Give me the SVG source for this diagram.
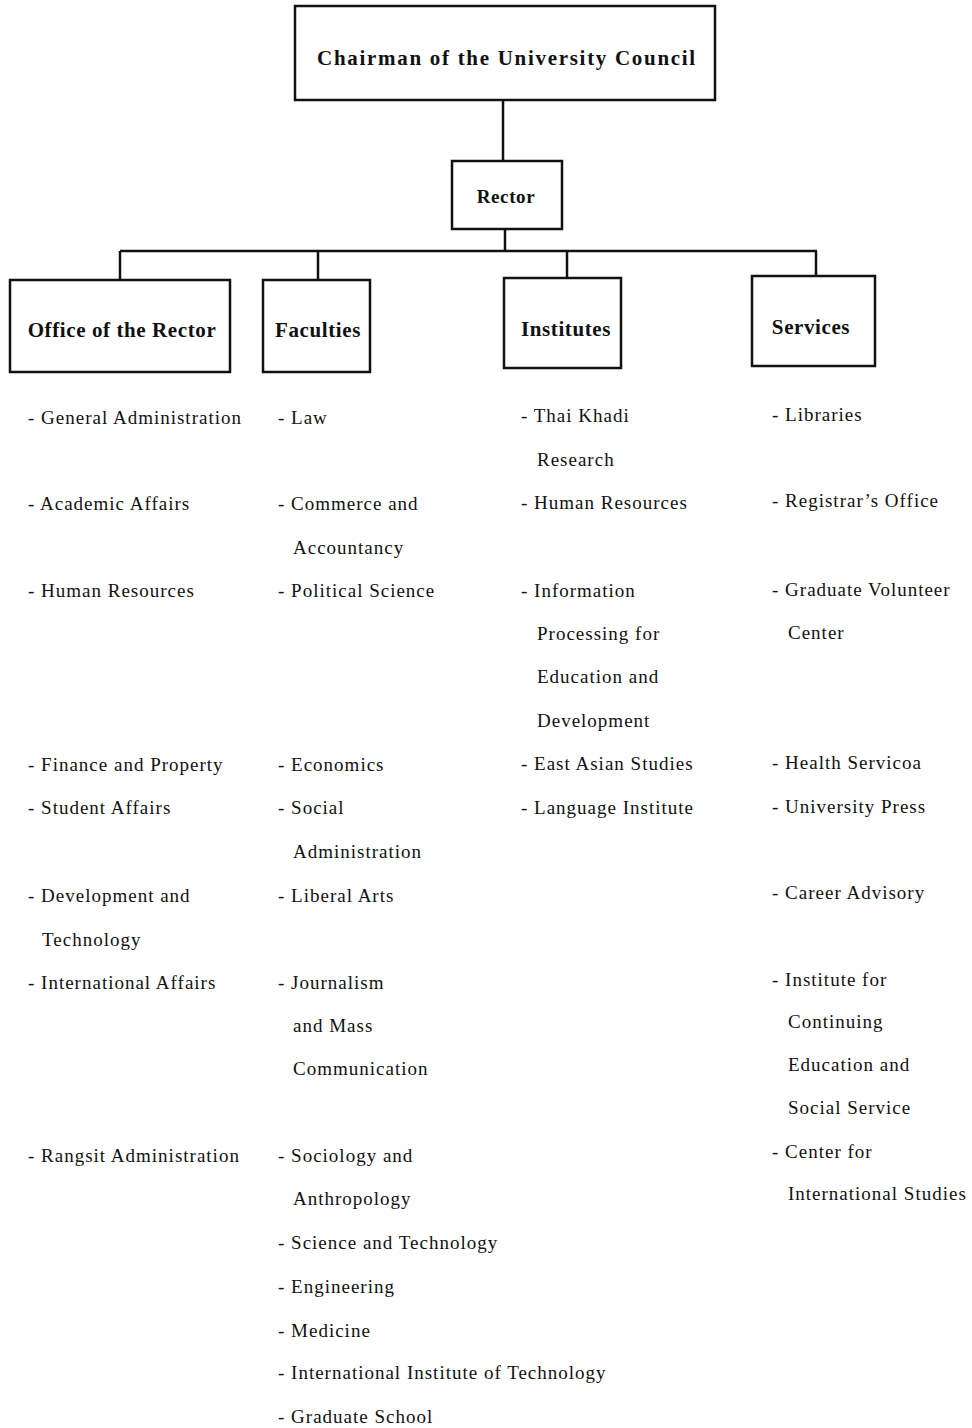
<svg xmlns="http://www.w3.org/2000/svg" width="972" height="1428" viewBox="0 0 972 1428">
<style>
.box{fill:#fff;stroke:#111;stroke-width:2.5}
.h{font-family:"Liberation Serif",serif;font-weight:bold;font-size:21px;fill:#111;text-anchor:middle;letter-spacing:0.6px}
.t{font-family:"Liberation Serif",serif;font-size:19px;fill:#111;letter-spacing:1px}
.ln{stroke:#111;stroke-width:2.5;fill:none}
</style>
<rect width="972" height="1428" fill="#fff"/>
<g id="connectors">
<path class="ln" d="M503,100 V160"/>
<path class="ln" d="M505,229 V251"/>
<path class="ln" d="M120,251 H817"/>
<path class="ln" d="M120,251 V280"/>
<path class="ln" d="M318,251 V280"/>
<path class="ln" d="M567,251 V278"/>
<path class="ln" d="M816,251 V277"/>
</g>
<g id="chairman"><rect class="box" x="295" y="6" width="420" height="94"/><text class="h" x="507" y="65" style="letter-spacing:1.7px">Chairman of the University Council</text></g>
<g id="rector"><rect class="box" x="452" y="161" width="110" height="68"/><text class="h" x="506" y="203" style="font-size:19px">Rector</text></g>
<g id="office"><rect class="box" x="10" y="280" width="220" height="92"/><text class="h" x="122" y="337">Office of the Rector</text></g>
<g id="faculties"><rect class="box" x="263" y="280" width="107" height="92"/><text class="h" x="318" y="337">Faculties</text></g>
<g id="institutes"><rect class="box" x="504" y="278" width="117" height="90"/><text class="h" x="566" y="336">Institutes</text></g>
<g id="services"><rect class="box" x="752" y="276" width="123" height="90"/><text class="h" x="811" y="334">Services</text></g>
<g id="office-list" class="t">
<text x="28" y="424">- General Administration</text>
<text x="28" y="510">- Academic Affairs</text>
<text x="28" y="597">- Human Resources</text>
<text x="28" y="771">- Finance and Property</text>
<text x="28" y="814">- Student Affairs</text>
<text x="28" y="902">- Development and</text>
<text x="42" y="946">Technology</text>
<text x="28" y="989">- International Affairs</text>
<text x="28" y="1162">- Rangsit Administration</text>
</g>
<g id="faculties-list" class="t">
<text x="278" y="424">- Law</text>
<text x="278" y="510">- Commerce and</text>
<text x="293" y="554">Accountancy</text>
<text x="278" y="597">- Political Science</text>
<text x="278" y="771">- Economics</text>
<text x="278" y="814">- Social</text>
<text x="293" y="858">Administration</text>
<text x="278" y="902">- Liberal Arts</text>
<text x="278" y="989">- Journalism</text>
<text x="293" y="1032">and Mass</text>
<text x="293" y="1075">Communication</text>
<text x="278" y="1162">- Sociology and</text>
<text x="293" y="1205">Anthropology</text>
<text x="278" y="1249">- Science and Technology</text>
<text x="278" y="1293">- Engineering</text>
<text x="278" y="1337">- Medicine</text>
<text x="278" y="1379">- International Institute of Technology</text>
<text x="278" y="1423">- Graduate School</text>
</g>
<g id="institutes-list" class="t">
<text x="521" y="422">- Thai Khadi</text>
<text x="537" y="466">Research</text>
<text x="521" y="509">- Human Resources</text>
<text x="521" y="597">- Information</text>
<text x="537" y="640">Processing for</text>
<text x="537" y="683">Education and</text>
<text x="537" y="727">Development</text>
<text x="521" y="770">- East Asian Studies</text>
<text x="521" y="814">- Language Institute</text>
</g>
<g id="services-list" class="t">
<text x="772" y="421">- Libraries</text>
<text x="772" y="507">- Registrar’s Office</text>
<text x="772" y="596">- Graduate Volunteer</text>
<text x="788" y="639">Center</text>
<text x="772" y="769">- Health Servicoa</text>
<text x="772" y="813">- University Press</text>
<text x="772" y="899">- Career Advisory</text>
<text x="772" y="986">- Institute for</text>
<text x="788" y="1028">Continuing</text>
<text x="788" y="1071">Education and</text>
<text x="788" y="1114">Social Service</text>
<text x="772" y="1158">- Center for</text>
<text x="788" y="1200">International Studies</text>
</g>
</svg>
